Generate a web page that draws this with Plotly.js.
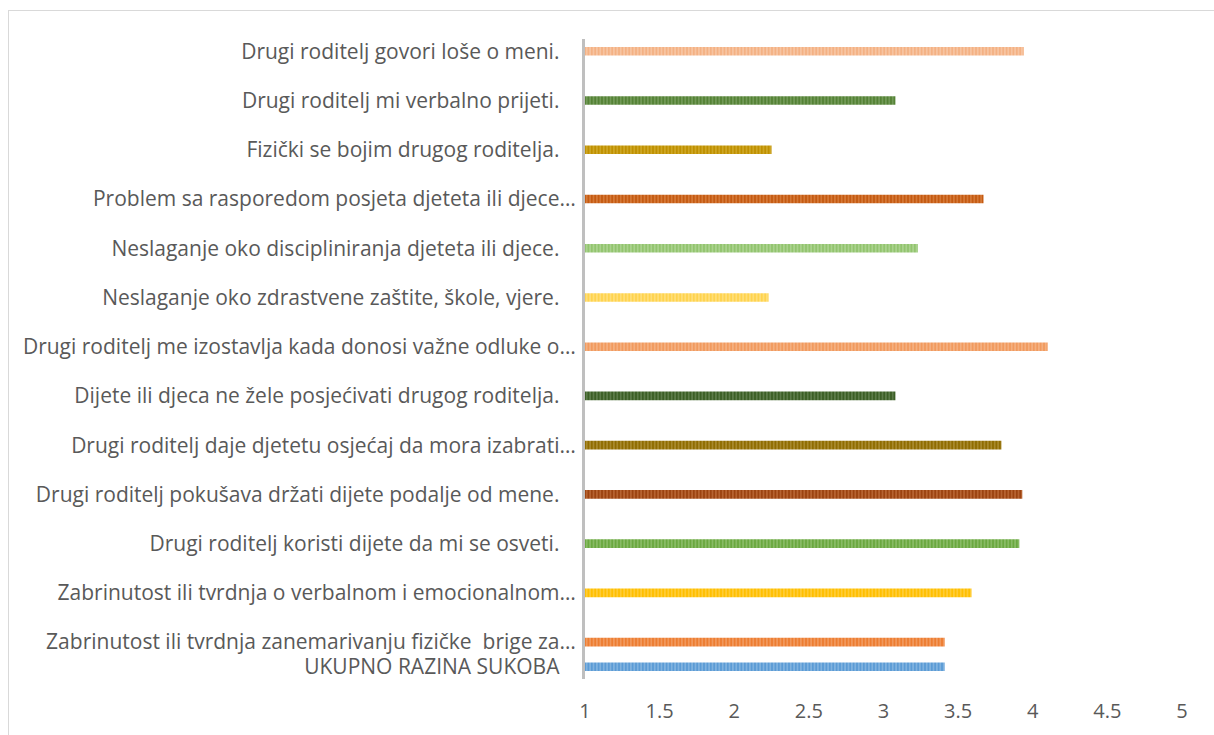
<!DOCTYPE html>
<html>
<head>
<meta charset="utf-8">
<script src="https://cdn.plot.ly/plotly-3.0.1.min.js"></script>
<style>
  html, body { margin: 0; padding: 0; background: #ffffff; }
  #frame { position: absolute; left: 8px; top: 10px; width: 1300px; height: 800px; border: 1px solid #D9D9D9; box-sizing: border-box; }
  #chart { position: absolute; left: 0; top: 0; width: 1214px; height: 735px; }
</style>
</head>
<body>
<div id="frame"></div>
<div id="chart"></div>
<script>
// Categories listed top to bottom as displayed
const categories = [
  "Drugi roditelj govori loše o meni.",
  "Drugi roditelj mi verbalno prijeti.",
  "Fizički se bojim drugog roditelja.",
  "Problem sa rasporedom posjeta djeteta ili djece…",
  "Neslaganje oko discipliniranja djeteta ili djece.",
  "Neslaganje oko zdrastvene zaštite, škole, vjere.",
  "Drugi roditelj me izostavlja kada donosi važne odluke o…",
  "Dijete ili djeca ne žele posjećivati drugog roditelja.",
  "Drugi roditelj daje djetetu osjećaj da mora izabrati…",
  "Drugi roditelj pokušava držati dijete podalje od mene.",
  "Drugi roditelj koristi dijete da mi se osveti.",
  "Zabrinutost ili tvrdnja o verbalnom i emocionalnom…",
  "Zabrinutost ili tvrdnja zanemarivanju fizičke  brige za…"
];
const values = [3.94, 3.08, 2.25, 3.67, 3.23, 2.23, 4.10, 3.08, 3.79, 3.93, 3.91, 3.59, 3.41];
const totalLabel = "UKUPNO RAZINA SUKOBA";
const totalValue = 3.41;
const xTicks = [1, 1.5, 2, 2.5, 3, 3.5, 4, 4.5, 5];

// Styles
const baseColors = ["#F4B183", "#548235", "#BF9000", "#C55A11", "#92C46E", "#FFD34D",
                    "#F19A5E", "#3B5E25", "#8F6C00", "#9C4310", "#6AA840", "#FFBF00", "#ED7D31"];
const stripeColors = ["#F9CCAE", "#7EA365", "#D4AF33", "#DB8446", "#B5D89C", "#FFE38A",
                      "#F6B98E", "#6A8858", "#B39540", "#C2703F", "#95C474", "#FFD24D", "#F3A46E"];
const totalColor = "#5B9BD5";
const totalStripe = "#8FBCE4";

const n = categories.length;
const NBSP = "\u00A0\u00A0\u00A0";
const pos = categories.map((c, i) => n - 1 - i);
const totalPos = -0.5;
const labelText = categories.map(c => c.endsWith("…") ? c : c + NBSP);

function barTrace(val, y, color, stripe) {
  return {
    type: "bar",
    orientation: "h",
    base: 1,
    x: [val - 1],
    y: [y],
    width: 0.175,
    marker: {
      color: color,
      line: { width: 0 },
      pattern: { shape: "|", fillmode: "replace", bgcolor: color, fgcolor: stripe, size: 3.4, solidity: 0.35 }
    },
    hoverinfo: "skip",
    showlegend: false
  };
}

const traces = values.map((v, i) => barTrace(v, pos[i], baseColors[i], stripeColors[i]));
traces.push(barTrace(totalValue, totalPos, totalColor, totalStripe));

const layout = {
  width: 1214,
  height: 735,
  margin: { l: 585, r: 32, t: 39, b: 56, pad: 0 },
  paper_bgcolor: "rgba(0,0,0,0)",
  plot_bgcolor: "rgba(0,0,0,0)",
  font: { family: "'Open Sans', sans-serif", size: 21, color: "#595959" },
  barmode: "overlay",
  xaxis: {
    range: [1, 5],
    tickvals: xTicks,
    ticktext: xTicks.map(String),
    showgrid: false,
    zeroline: false,
    showline: false,
    ticks: "outside",
    ticklen: 14,
    tickcolor: "rgba(0,0,0,0)",
    tickfont: { size: 20, color: "#595959" }
  },
  yaxis: {
    range: [-0.75, 12.25],
    tickvals: pos.concat([totalPos]),
    ticktext: labelText.concat([totalLabel + NBSP]),
    showgrid: false,
    zeroline: false,
    showline: true,
    linecolor: "#BFBFBF",
    linewidth: 3,
    ticks: "outside",
    ticklen: 2,
    tickcolor: "rgba(0,0,0,0)",
    tickfont: { size: 21, color: "#595959" }
  }
};

Plotly.newPlot("chart", traces, layout, { displayModeBar: false, staticPlot: true });
</script>
</body>
</html>
